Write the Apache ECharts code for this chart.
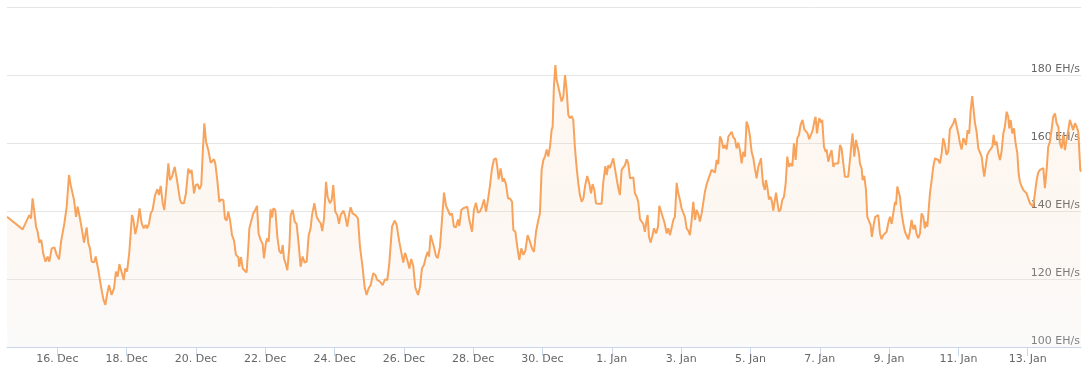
<!DOCTYPE html>
<html>
<head>
<meta charset="utf-8">
<script src="https://cdn.jsdelivr.net/npm/echarts@6/dist/echarts.min.js"></script>
<style>
html,body{margin:0;padding:0;background:#ffffff;}
#chart{width:1087px;height:381px;}
</style>
</head>
<body>
<div id="chart"></div>
<script>
// Time origin for the x values (hours after this instant)
const startTime = '2020-12-14T00:00:00Z';

// Hours after startTime of each reading
const timeHours = [
13.2,24.0,28.6,29.8,30.9,31.9,33.3,34.4,35.6,36.9,
38.3,39.9,41.3,42.5,44.1,46.0,47.6,49.2,50.6,51.7,
52.9,54.5,56.1,57.3,58.4,59.6,61.0,62.1,63.7,65.1,
66.5,68.3,69.5,70.6,71.8,73.6,74.6,76.4,78.3,79.9,
81.3,82.6,83.8,85.6,87.3,88.6,89.8,91.0,92.3,94.0,
95.1,96.3,97.9,99.7,100.7,102.0,103.4,105.0,106.4,107.8,
109.2,110.1,111.5,112.7,114.0,115.7,117.3,118.4,119.6,121.0,
122.1,123.7,124.9,126.0,127.4,129.3,130.7,
133.0,134.1,135.7,137.1,138.7,139.9,141.0,142.7,143.8,145.2,
146.4,147.7,148.7,149.8,151.0,152.6,154.2,155.4,156.5,157.4,
158.8,160.2,161.6,163.0,164.1,165.3,166.4,167.6,169.0,170.4,
171.7,173.4,174.0,175.2,176.4,177.7,179.1,180.3,181.0,182.1,
183.7,185.1,186.3,187.4,188.8,190.2,191.1,192.5,193.4,194.4,
195.7,196.7,197.6,199.0,200.4,201.7,203.1,204.1,205.0,206.4,
207.3,208.7,209.6,211.0,212.4,213.7,215.1,216.5,217.9,219.3,
220.7,222.1,223.4,224.4,226.0,227.6,229.0,230.4,231.5,232.7,
234.1,235.2,236.8,238.0,239.1,240.5,241.9,243.1,244.2,246.1,
247.4,248.8,250.2,251.1,252.5,254.4,256.2,
257.6,259.5,260.8,262.2,263.6,265.0,266.8,268.2,269.6,271.5,
273.3,274.9,276.5,277.9,279.8,281.6,283.0,284.8,286.0,287.6,
288.8,290.4,291.8,293.1,294.5,295.9,297.8,299.2,300.5,301.9,
303.3,304.5,305.4,306.5,307.5,308.8,310.2,311.4,313.0,314.4,
315.8,317.2,318.5,319.9,321.3,322.7,324.1,325.5,326.4,327.8,
329.2,330.5,331.9,333.3,335.2,336.5,337.9,339.3,340.7,342.1,
343.5,344.9,346.2,347.6,349.0,350.4,351.8,352.7,353.6,355.0,
356.4,357.3,358.7,360.1,361.5,362.9,363.8,365.2,366.5,367.9,
369.3,370.7,372.1,373.7,375.3,376.7,378.1,379.5,380.9,
382.2,383.4,384.6,385.7,386.9,388.0,389.2,390.3,391.0,391.9,
392.9,393.8,394.9,396.1,397.2,398.4,399.6,400.7,401.9,403.0,
404.2,405.3,406.5,407.6,408.8,409.9,411.1,412.3,413.4,415.0,
416.4,417.6,418.7,419.9,421.0,422.6,423.8,424.9,426.1,427.5,
428.4,429.6,430.7,431.9,433.0,434.2,435.3,436.5,437.6,438.8,
439.9,441.1,442.3,443.4,444.6,445.7,446.9,448.0,449.2,450.3,
451.5,452.6,453.8,454.9,456.1,456.8,457.7,458.9,460.0,461.2,
462.6,464.0,464.9,465.8,467.2,468.6,470.0,471.1,472.3,473.4,
474.6,475.7,476.9,478.0,479.2,480.3,481.5,482.6,483.8,485.0,
486.1,487.3,488.4,489.6,490.7,491.9,493.0,494.2,495.3,496.5,
497.6,498.8,500.0,501.1,502.3,503.4,504.6,505.7,
506.9,508.0,509.2,510.3,511.5,512.7,513.8,515.0,516.1,517.3,
518.4,519.6,520.7,521.9,523.0,524.2,525.3,526.5,527.7,528.8,
530.0,531.1,532.3,533.4,534.6,535.3,536.2,536.9,538.0,538.7,
539.7,540.8,542.0,542.9,543.8,544.7,545.7,546.6,547.7,548.9,
550.0,551.2,552.4,553.5,554.7,555.8,557.0,558.1,559.3,560.4,
561.6,562.7,564.1,565.3,566.4,567.6,568.7,569.9,571.1,572.2,
573.1,574.1,575.0,575.7,576.8,577.7,578.9,580.1,580.7,581.9,
583.1,584.2,585.4,586.5,587.7,588.8,590.0,591.1,592.3,593.4,
594.6,595.7,596.9,598.1,598.7,599.9,601.1,602.0,603.1,603.8,
605.0,605.7,606.8,608.0,608.9,610.1,611.2,612.1,613.3,614.4,
615.6,616.5,617.7,618.8,620.0,621.1,622.3,623.4,624.6,625.8,
626.9,628.1,628.8,629.7,630.6,
631.5,632.7,633.8,635.0,636.1,637.3,638.4,639.6,640.8,641.9,
643.1,644.2,645.4,646.5,647.7,648.8,649.5,650.5,651.4,652.3,
653.5,654.6,655.8,656.9,658.1,659.2,660.4,661.5,662.7,663.8,
665.0,666.1,667.3,668.5,669.6,670.8,671.9,673.1,674.2,675.4,
676.5,677.2,678.4,679.5,680.5,681.6,682.3,683.5,684.6,685.8,
686.9,688.1,689.2,689.9,691.1,692.0,693.2,694.3,695.5,696.4,
697.3,698.5,699.6,700.8,701.9,703.1,704.2,705.4,706.5,707.2,
708.2,709.3,710.5,711.6,712.8,713.7,714.6,715.8,716.9,718.1,
719.2,720.4,721.5,722.7,723.8,725.0,726.2,727.3,728.5,729.6,
730.8,731.9,733.1,734.2,735.4,736.5,737.7,738.9,740.0,741.2,
742.3,743.5,744.6,745.8,746.9,748.1,749.2,750.4,751.5,752.7,
753.9,755.0,755.7,756.4,756.9
];

// Hashrate in EH/s at each reading
const hashrate = [
138.3,134.6,138.8,137.8,143.7,140.3,135.4,133.9,130.7,131.5,
127.4,125.1,126.6,125.1,129.0,129.3,127.1,125.8,131.0,130.5,
136.4,141.3,150.6,147.6,147.6,143.2,138.3,141.3,137.8,134.4,
130.7,135.2,130.5,129.0,125.1,124.9,126.6,122.6,117.7,114.0,
112.4,115.8,118.2,115.3,117.3,122.2,120.7,124.4,124.8,119.7,
123.1,122.2,128.0,138.8,137.4,133.2,135.9,140.8,136.4,134.9,
135.9,134.9,136.2,139.3,140.3,144.7,146.4,144.7,147.4,142.3,
140.3,147.6,154.0,149.1,150.1,153.0,149.6,
143.2,142.3,142.3,145.2,152.5,151.1,152.1,145.2,147.6,147.9,
146.4,147.6,157.0,165.8,160.4,157.9,154.2,154.5,155.2,154.0,
149.1,142.7,143.4,143.2,137.8,137.2,139.8,137.4,132.9,131.3,
127.1,126.4,123.6,126.4,123.1,123.6,121.9,129.5,134.9,135.4,
139.3,140.3,141.5,133.4,131.5,130.3,126.1,130.7,132.0,131.0,
140.5,138.1,140.8,140.3,132.3,128.3,127.5,130.0,126.1,124.1,
122.6,129.5,138.8,140.3,136.9,136.2,130.5,123.6,126.6,124.8,
125.1,132.9,134.9,138.8,142.3,138.3,137.2,136.4,134.1,137.8,
148.6,144.2,142.3,143.2,147.6,139.8,138.8,136.2,138.8,140.1,
138.5,135.4,139.3,141.1,139.3,138.8,137.8,
129.5,123.1,117.7,115.3,117.3,118.2,121.7,121.2,119.7,119.2,
118.2,119.9,119.7,124.6,135.4,137.2,135.9,131.0,130.7,124.8,
127.7,125.6,123.1,125.9,123.8,117.5,115.3,117.7,123.1,124.1,
126.6,128.0,126.6,132.9,132.6,129.5,126.8,126.1,129.5,137.4,
145.4,141.5,140.3,138.8,139.3,135.4,135.2,137.5,135.6,140.3,
140.8,140.5,141.3,137.4,133.9,140.3,142.4,139.5,139.8,141.3,
143.4,139.8,143.2,147.4,152.5,155.2,155.5,153.0,149.3,152.5,
148.6,149.6,147.9,143.7,143.7,142.7,134.4,133.9,129.5,125.6,
129.0,127.1,128.3,132.9,131.0,129.0,128.0,133.9,136.9,
139.3,152.1,155.0,156.0,158.1,156.0,158.9,163.8,164.8,176.6,
182.9,178.5,176.6,176.6,172.2,173.6,180.0,175.6,168.2,167.3,
167.9,166.8,158.4,153.0,148.1,144.7,142.7,143.7,147.2,150.3,
148.1,145.2,147.9,146.2,142.3,142.1,142.3,142.1,148.6,153.2,
150.6,153.5,152.6,152.8,155.5,155.0,149.6,146.7,144.7,152.1,
152.3,153.5,155.2,154.0,149.6,149.4,149.9,145.2,144.2,142.7,
137.6,136.9,136.2,133.9,137.4,138.8,132.5,130.7,132.6,134.9,
133.4,135.4,141.5,141.3,138.3,136.4,133.4,134.9,132.9,133.4,
137.4,138.3,148.3,145.2,143.2,140.8,141.3,138.3,134.9,134.2,
132.9,137.4,142.7,137.4,140.3,139.1,136.9,139.3,139.5,145.7,
147.7,149.3,149.1,152.1,152.6,151.3,155.0,153.8,
161.9,160.9,158.4,159.4,158.1,161.9,162.1,163.3,161.7,161.1,
158.4,160.1,157.9,154.0,157.4,156.0,166.3,164.8,161.9,157.4,
155.5,152.5,149.6,153.0,154.5,155.5,150.3,147.6,146.2,149.1,
147.0,143.4,144.2,142.7,140.1,142.7,145.4,142.7,139.8,140.5,
143.2,144.2,148.1,156.0,153.0,154.0,153.2,159.9,155.0,161.4,
162.4,165.3,166.8,164.0,163.8,162.8,161.1,160.7,163.8,166.3,
167.7,162.8,165.8,167.3,166.0,166.8,158.9,157.4,158.1,154.5,
156.5,157.9,153.0,154.0,154.0,154.0,159.4,158.4,154.0,150.1,
149.6,150.1,155.0,160.4,162.8,156.0,160.9,161.1,157.0,154.0,
152.5,149.1,150.3,146.2,138.3,137.8,135.9,132.4,135.9,138.3,
138.1,138.8,133.4,131.7,132.9,132.4,133.9,136.4,138.3,136.2,
135.9,142.7,141.8,147.2,145.7,
144.2,139.3,136.4,133.9,133.4,131.7,133.9,137.4,134.6,135.9,
133.2,132.0,133.4,139.3,138.3,134.9,136.9,135.4,140.3,145.2,
149.1,153.0,155.5,155.0,155.0,154.0,157.0,161.4,159.4,156.5,
157.5,164.0,164.3,165.8,167.3,166.8,162.8,159.9,158.1,161.4,
160.4,159.4,163.8,162.8,169.7,173.8,170.7,165.8,163.3,158.4,
158.9,156.0,152.1,150.1,150.6,156.5,157.5,157.9,158.9,162.4,
159.4,160.4,157.0,155.0,157.5,162.8,164.8,169.2,167.8,164.3,
166.8,162.8,164.3,159.9,157.0,151.1,148.6,147.2,146.2,146.7,
145.2,144.7,142.3,142.8,141.3,145.2,149.1,151.3,152.1,152.1,
152.6,146.7,152.1,158.9,160.4,163.8,167.8,168.7,165.8,164.8,
159.9,158.4,162.4,157.9,160.9,163.8,166.8,166.3,163.8,165.8,
164.8,163.3,157.9,152.1,151.6
];

// X-axis tick dates and their labels
const tickDates = ['2020-12-16','2020-12-18','2020-12-20','2020-12-22','2020-12-24','2020-12-26','2020-12-28','2020-12-30',
  '2021-01-01','2021-01-03','2021-01-05','2021-01-07','2021-01-09','2021-01-11','2021-01-13'];
const tickLabels = ['16. Dec','18. Dec','20. Dec','22. Dec','24. Dec','26. Dec','28. Dec','30. Dec',
  '1. Jan','3. Jan','5. Jan','7. Jan','9. Jan','11. Jan','13. Jan'];

// Y-axis ticks
const yTicks = [100, 120, 140, 160, 180, 200];
const yUnit = ' EH/s';

// Visible time window (hours after startTime)
const xWindow = [13.17, 756.9];

if (timeHours.length !== hashrate.length) {
  console.error('length mismatch', timeHours.length, hashrate.length);
}

const t0 = Date.parse(startTime);
const tickHours = tickDates.map(d => (Date.parse(d + 'T00:00:00Z') - t0) / 3600000);
const seriesData = timeHours.map((h, i) => [h, hashrate[i]]);

const chart = echarts.init(document.getElementById('chart'), null, {renderer: 'canvas'});
const font = 'DejaVu Sans, Verdana, Arial, sans-serif';

chart.setOption({
  animation: false,
  backgroundColor: '#ffffff',
  grid: {left: 7, right: 6, top: 7, bottom: 34, containLabel: false},
  xAxis: {
    type: 'value',
    min: xWindow[0],
    max: xWindow[1],
    axisLine: {show: true, onZero: false, lineStyle: {color: '#ccd6eb', width: 1}},
    axisTick: {show: true, length: 9, customValues: tickHours, lineStyle: {color: '#ccd6eb'}},
    axisLabel: {
      show: true,
      customValues: tickHours,
      margin: 7,
      color: '#666666',
      fontSize: 11,
      fontFamily: font,
      formatter: function (v) {
        let best = 0, bd = Infinity;
        tickHours.forEach((t, i) => { const d = Math.abs(t - v); if (d < bd) { bd = d; best = i; } });
        return tickLabels[best];
      }
    },
    splitLine: {show: false}
  },
  yAxis: {
    type: 'value',
    position: 'right',
    min: yTicks[0],
    max: yTicks[yTicks.length - 1],
    interval: yTicks[1] - yTicks[0],
    axisLine: {show: false},
    axisTick: {show: false},
    axisLabel: {
      inside: true,
      margin: 1,
      showMaxLabel: false,
      verticalAlign: 'bottom',
      color: '#666666',
      fontSize: 11,
      fontFamily: font,
      formatter: v => v + yUnit
    },
    splitLine: {show: true, lineStyle: {color: '#e6e6e6', width: 1}}
  },
  series: [{
    type: 'line',
    data: seriesData,
    showSymbol: false,
    symbol: 'none',
    smooth: false,
    clip: true,
    lineStyle: {color: '#f7a35c', width: 2},
    areaStyle: {
      color: new echarts.graphic.LinearGradient(0, 0, 0, 1, [
        {offset: 0, color: 'rgba(247,163,92,0.10)'},
        {offset: 1, color: 'rgba(235,235,235,0.30)'}
      ])
    },
    z: 3
  }]
});
</script>
</body>
</html>
